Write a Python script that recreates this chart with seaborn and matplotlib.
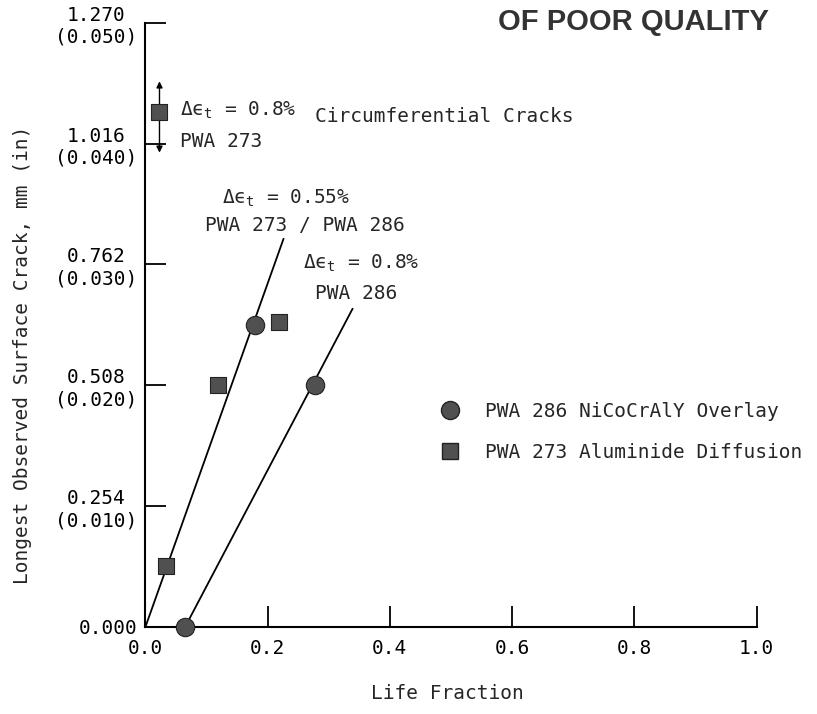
#crack length vs life fraction

import pandas as pd
import seaborn as sns
import matplotlib.pyplot as plt
from matplotlib.lines import Line2D

#데이터
coatings = ["PWA 286 NiCoCrAlY Overlay", "PWA 273 Aluminide Diffusion"]
circle_life = [0.065, 0.179, 0.277]
circle_crack = [0.0, 0.635, 0.508]
square_life = [0.033, 0.119, 0.219, 0.023]
square_crack = [0.128, 0.508, 0.641, 1.083]

# circumferential crack scatter band (PWA 273, 0.8%)
band_life = [0.023]
band_mid = [1.083]
band_low = [0.997]
band_high = [1.147]

# fitted lines
fit_055_life = [0.0, 0.226]
fit_055_crack = [0.0, 0.816]
fit_08_life = [0.065, 0.339]
fit_08_crack = [0.0, 0.669]

x_ticks = [0.0, 0.2, 0.4, 0.6, 0.8, 1.0]
y_ticks = [0.0, 0.254, 0.508, 0.762, 1.016, 1.270]
y_ticklabels = ["0.000", "0.254\n(0.010)", "0.508\n(0.020)", "0.762\n(0.030)",
                "1.016\n(0.040)", "1.270\n(0.050)"]

df = pd.DataFrame({
    "life": circle_life + square_life,
    "crack": circle_crack + square_crack,
    "coating": [coatings[0]] * len(circle_life) + [coatings[1]] * len(square_life),
})

sns.set_style("ticks")
plt.rcParams['font.family'] = ['DejaVu Sans Mono', 'DejaVu Sans']

fig = plt.figure(figsize=(8.17, 7.14), dpi=100)
ax = fig.add_axes([0.178, 0.122, 0.748, 0.846])

mark_col = "#505050"
markers = {coatings[0]: "o", coatings[1]: "s"}

# lines first so markers sit on top
sns.lineplot(x=fit_055_life, y=fit_055_crack, ax=ax, color="k", lw=1.3, sort=False)
sns.lineplot(x=fit_08_life, y=fit_08_crack, ax=ax, color="k", lw=1.3, sort=False)

sns.scatterplot(data=df[df.coating == coatings[0]], x="life", y="crack", marker="o",
                s=175, color=mark_col, edgecolor="#222222", linewidth=0.8,
                ax=ax, legend=False, zorder=5, clip_on=False)
sns.scatterplot(data=df[df.coating == coatings[1]], x="life", y="crack", marker="s",
                s=135, color=mark_col, edgecolor="#222222", linewidth=0.8,
                ax=ax, legend=False, zorder=5, clip_on=False)

# scatter band arrows
for i in range(len(band_life)):
    ax.annotate("", xy=(band_life[i], band_high[i]), xytext=(band_life[i], band_mid[i]),
                arrowprops=dict(arrowstyle="-|>", color="k", lw=1.0, mutation_scale=9,
                                shrinkA=0, shrinkB=0))
    ax.annotate("", xy=(band_life[i], band_low[i]), xytext=(band_life[i], band_mid[i]),
                arrowprops=dict(arrowstyle="-|>", color="k", lw=1.0, mutation_scale=9,
                                shrinkA=0, shrinkB=0))

fs = 14
de = r"Δϵ$_{\mathregular{t}}$"
ax.text(0.057, 1.074, de + " = 0.8%", fontsize=fs, va="baseline")
ax.text(0.277, 1.061, "Circumferential Cracks", fontsize=fs, va="baseline")
ax.text(0.057, 1.008, "PWA 273", fontsize=fs, va="baseline")
ax.text(0.126, 0.889, de + " = 0.55%", fontsize=fs, va="baseline")
ax.text(0.098, 0.833, "PWA 273 / PWA 286", fontsize=fs, va="baseline")
ax.text(0.258, 0.753, de + " = 0.8%", fontsize=fs, va="baseline")
ax.text(0.277, 0.690, "PWA 286", fontsize=fs, va="baseline")

handles = [Line2D([], [], ls="", marker=markers[c], color=mark_col, markeredgecolor="#222222",
                  markersize=13 if markers[c] == "o" else 11.5) for c in coatings]
ax.legend(handles, coatings, loc="upper left", bbox_to_anchor=(0.483, 0.372), frameon=False,
          fontsize=fs, borderpad=0, handlelength=1.0, handletextpad=1.3, labelspacing=1.1,
          borderaxespad=0)

ax.set_xlim(0, 1.0)
ax.set_ylim(0, 1.270)
ax.set_xticks(x_ticks)
ax.set_xticklabels([f"{v:.1f}" for v in x_ticks])
ax.set_yticks(y_ticks)
ax.set_yticklabels(y_ticklabels, multialignment="center")
ax.tick_params(direction="in", length=15, width=1.3, labelsize=fs, colors="k")
ax.tick_params(axis="x", pad=9)
ax.tick_params(axis="y", pad=6)

sns.despine(ax=ax)
for s in ["left", "bottom"]:
    ax.spines[s].set_linewidth(1.5)
    ax.spines[s].set_color("k")

ax.set_xlabel("Life Fraction", fontsize=fs)
ax.xaxis.set_label_coords(0.494, -0.094)
ax.set_ylabel("Longest Observed Surface Crack, mm (in)", fontsize=fs)
ax.yaxis.set_label_coords(-0.185, 0.45)

fig.text(0.61, 0.969, "OF POOR QUALITY", fontsize=21, fontweight="bold",
         family="Liberation Sans", color="#333333", va="center", ha="left")

fig.savefig("out.png", dpi=100)
